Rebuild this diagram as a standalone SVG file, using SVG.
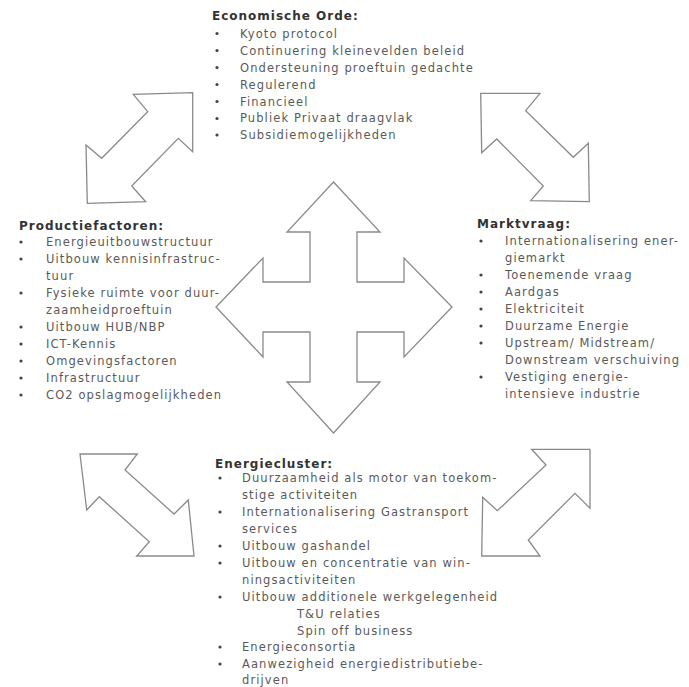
<svg xmlns="http://www.w3.org/2000/svg" width="689" height="687" viewBox="0 0 689 687">
<style>
.t{font-family:"DejaVu Sans","Liberation Sans",sans-serif;font-size:11.5px;fill:#5a5a5a;letter-spacing:1.1px}
.h{font-family:"DejaVu Sans","Liberation Sans",sans-serif;font-size:12px;font-weight:bold;fill:#333;letter-spacing:1px}
.b{fill:#444}
.a{fill:#fff;stroke:#8a8a8a;stroke-width:1.3;stroke-linejoin:miter}
</style>
<rect width="689" height="687" fill="#fff"/>
<g id="connectors">
<path class="a" d="M333.5,182 L380,232 L357,232 L357,282 L404,282 L404,258 L452,307 L404,357 L404,332 L357,332 L357,382 L380,382 L333.5,433 L287,382 L310,382 L310,332 L263,332 L263,357 L216,307 L263,258 L263,282 L310,282 L310,232 L287,232 Z"/>
<path class="a" d="M192.7,92.7 L192.7,151.7 L178.3,138.3 L131.7,186 L145.7,201.7 L87.3,203.3 L86,145 L101.7,158.3 L147.7,111.7 L133.3,94.3 Z"/>
<path class="a" d="M480.7,93.3 L540,93.3 L525.7,110.7 L573.3,157.3 L588.3,143.3 L589.3,201.7 L530.7,200.7 L543.3,186 L496.7,139 L481.7,152.7 Z"/>
<path class="a" d="M80,454 L137.3,454 L125,470 L174,514 L188.3,500 L194,556 L136.7,556 L149.3,541.7 L99.3,496.7 L86.7,510 Z"/>
<path class="a" d="M590,449.3 L531.7,449.3 L546,465 L497.3,510.7 L482.7,497.3 L481.7,556 L540,556 L528.3,540 L575,493.3 L590,508.3 Z"/>
</g>
<g id="economische-orde">
<text class="h" x="212" y="20">Economische Orde:</text>
<g class="b">
<circle cx="217" cy="33.5" r="1.6"/><circle cx="217" cy="50.5" r="1.6"/><circle cx="217" cy="67.5" r="1.6"/><circle cx="217" cy="84.5" r="1.6"/><circle cx="217" cy="101.5" r="1.6"/><circle cx="217" cy="118.5" r="1.6"/><circle cx="217" cy="135" r="1.6"/>
</g>
<text class="t" x="240" y="37.5">Kyoto protocol</text>
<text class="t" x="240" y="54.5">Continuering kleinevelden beleid</text>
<text class="t" x="240" y="71.5">Ondersteuning proeftuin gedachte</text>
<text class="t" x="240" y="88.5">Regulerend</text>
<text class="t" x="240" y="105.5">Financieel</text>
<text class="t" x="240" y="122">Publiek Privaat draagvlak</text>
<text class="t" x="240" y="139">Subsidiemogelijkheden</text>
</g>
<g id="productiefactoren">
<text class="h" x="19" y="230">Productiefactoren:</text>
<g class="b">
<circle cx="21" cy="242" r="1.6"/><circle cx="21" cy="259" r="1.6"/><circle cx="21" cy="293" r="1.6"/><circle cx="21" cy="327" r="1.6"/><circle cx="21" cy="344" r="1.6"/><circle cx="21" cy="361" r="1.6"/><circle cx="21" cy="378" r="1.6"/><circle cx="21" cy="395" r="1.6"/>
</g>
<text class="t" x="46" y="246">Energieuitbouwstructuur</text>
<text class="t" x="46" y="263">Uitbouw kennisinfrastruc-</text>
<text class="t" x="46" y="280">tuur</text>
<text class="t" x="46" y="297">Fysieke ruimte voor duur-</text>
<text class="t" x="46" y="314">zaamheidproeftuin</text>
<text class="t" x="46" y="331">Uitbouw HUB/NBP</text>
<text class="t" x="46" y="348">ICT-Kennis</text>
<text class="t" x="46" y="365">Omgevingsfactoren</text>
<text class="t" x="46" y="382">Infrastructuur</text>
<text class="t" x="46" y="399">CO2 opslagmogelijkheden</text>
</g>
<g id="marktvraag">
<text class="h" x="477" y="228">Marktvraag:</text>
<g class="b">
<circle cx="481" cy="241" r="1.6"/><circle cx="481" cy="275" r="1.6"/><circle cx="481" cy="292" r="1.6"/><circle cx="481" cy="309" r="1.6"/><circle cx="481" cy="326" r="1.6"/><circle cx="481" cy="343" r="1.6"/><circle cx="481" cy="377" r="1.6"/>
</g>
<text class="t" x="505" y="245">Internationalisering ener-</text>
<text class="t" x="505" y="262">giemarkt</text>
<text class="t" x="505" y="279">Toenemende vraag</text>
<text class="t" x="505" y="296">Aardgas</text>
<text class="t" x="505" y="313">Elektriciteit</text>
<text class="t" x="505" y="330">Duurzame Energie</text>
<text class="t" x="505" y="347">Upstream/ Midstream/</text>
<text class="t" x="505" y="364">Downstream verschuiving</text>
<text class="t" x="505" y="381">Vestiging energie-</text>
<text class="t" x="505" y="398">intensieve industrie</text>
</g>
<g id="energiecluster">
<text class="h" x="215" y="468">Energiecluster:</text>
<g class="b">
<circle cx="220" cy="478" r="1.6"/><circle cx="220" cy="512" r="1.6"/><circle cx="220" cy="546" r="1.6"/><circle cx="220" cy="563" r="1.6"/><circle cx="220" cy="597" r="1.6"/><circle cx="220" cy="647" r="1.6"/><circle cx="220" cy="664" r="1.6"/>
</g>
<text class="t" x="242" y="482">Duurzaamheid als motor van toekom-</text>
<text class="t" x="242" y="498.5">stige activiteiten</text>
<text class="t" x="242" y="516">Internationalisering Gastransport</text>
<text class="t" x="242" y="533">services</text>
<text class="t" x="242" y="550">Uitbouw gashandel</text>
<text class="t" x="242" y="567">Uitbouw en concentratie van win-</text>
<text class="t" x="242" y="584">ningsactiviteiten</text>
<text class="t" x="242" y="601">Uitbouw additionele werkgelegenheid</text>
<text class="t" x="297" y="618">T&amp;U relaties</text>
<text class="t" x="297" y="634.5">Spin off business</text>
<text class="t" x="242" y="651">Energieconsortia</text>
<text class="t" x="242" y="668">Aanwezigheid energiedistributiebe-</text>
<text class="t" x="242" y="684">drijven</text>
</g>
</svg>
